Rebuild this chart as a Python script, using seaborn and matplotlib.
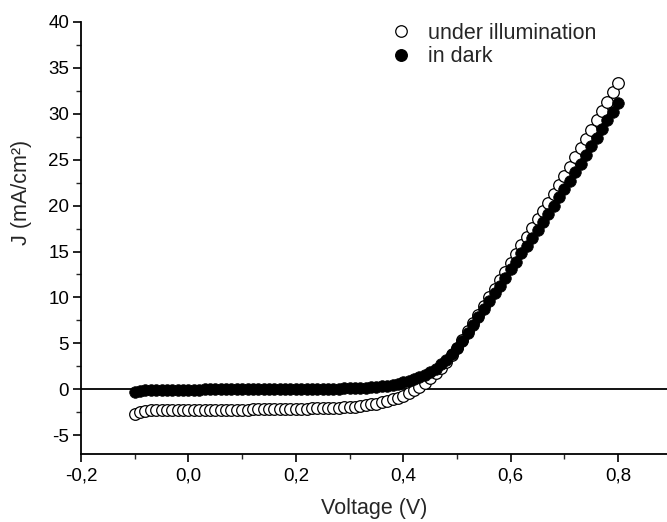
import matplotlib
matplotlib.use("Agg")
import matplotlib.pyplot as plt
from matplotlib.ticker import MultipleLocator, FuncFormatter
from matplotlib.lines import Line2D
import seaborn as sns
import pandas as pd

voltage = [
    -0.10, -0.09, -0.08, -0.07, -0.06, -0.05, -0.04, -0.03, -0.02, -0.01,
    0.00, 0.01, 0.02, 0.03, 0.04, 0.05, 0.06, 0.07, 0.08, 0.09,
    0.10, 0.11, 0.12, 0.13, 0.14, 0.15, 0.16, 0.17, 0.18, 0.19,
    0.20, 0.21, 0.22, 0.23, 0.24, 0.25, 0.26, 0.27, 0.28, 0.29,
    0.30, 0.31, 0.32, 0.33, 0.34, 0.35, 0.36, 0.37, 0.38, 0.39,
    0.40, 0.41, 0.42, 0.43, 0.44, 0.45, 0.46, 0.47, 0.48, 0.49,
    0.50, 0.51, 0.52, 0.53, 0.54, 0.55, 0.56, 0.57, 0.58, 0.59,
    0.60, 0.61, 0.62, 0.63, 0.64, 0.65, 0.66, 0.67, 0.68, 0.69,
    0.70, 0.71, 0.72, 0.73, 0.74, 0.75, 0.76, 0.77, 0.78, 0.79,
    0.80,
]

j_illum = [
    -2.70, -2.45, -2.35, -2.30, -2.28, -2.27, -2.26, -2.26, -2.25, -2.25,
    -2.25, -2.25, -2.24, -2.24, -2.24, -2.23, -2.23, -2.23, -2.22, -2.22,
    -2.21, -2.21, -2.20, -2.20, -2.19, -2.18, -2.17, -2.16, -2.15, -2.14,
    -2.13, -2.12, -2.10, -2.09, -2.07, -2.05, -2.03, -2.01, -1.99, -1.97,
    -1.95, -1.90, -1.82, -1.75, -1.65, -1.55, -1.42, -1.28, -1.10, -0.90,
    -0.68, -0.42, -0.12, 0.20, 0.65, 1.20, 1.75, 2.35, 3.00, 3.70,
    4.45, 5.37, 6.30, 7.22, 8.14, 9.07, 10.04, 10.96, 11.88, 12.81,
    13.78, 14.70, 15.68, 16.60, 17.52, 18.50, 19.42, 20.34, 21.31, 22.29,
    23.26, 24.23, 25.26, 26.23, 27.25, 28.28, 29.30, 30.32, 31.34, 32.37,
    33.39,
]

j_dark = [
    -0.25, -0.15, -0.10, -0.08, -0.07, -0.06, -0.05, -0.05, -0.04, -0.04,
    -0.03, -0.03, -0.03, -0.02, -0.02, -0.02, -0.01, -0.01, -0.01, 0.00,
    0.00, 0.00, 0.01, 0.01, 0.01, 0.02, 0.02, 0.02, 0.03, 0.03,
    0.03, 0.04, 0.04, 0.05, 0.05, 0.06, 0.07, 0.07, 0.08, 0.09,
    0.10, 0.12, 0.15, 0.18, 0.22, 0.27, 0.33, 0.41, 0.50, 0.62,
    0.76, 0.92, 1.10, 1.32, 1.58, 1.85, 2.25, 2.70, 3.20, 3.80,
    4.50, 5.30, 6.15, 7.00, 7.85, 8.70, 9.60, 10.45, 11.30, 12.15,
    13.05, 13.90, 14.80, 15.65, 16.50, 17.40, 18.25, 19.10, 20.00, 20.90,
    21.80, 22.70, 23.65, 24.55, 25.50, 26.45, 27.40, 28.35, 29.30, 30.25,
    31.20,
]

series_labels = ["under illumination", "in dark"]
x_label = "Voltage (V)"
y_label = "J (mA/cm²)"

sns.set_style("white")
plt.rcParams["font.family"] = ["Liberation Sans", "DejaVu Sans"]
plt.rcParams["axes.unicode_minus"] = False

df = pd.DataFrame({"V": voltage, "illum": j_illum, "dark": j_dark})

W, H = 667, 522
fig = plt.figure(figsize=(W / 100, H / 100), dpi=100)
ax = fig.add_axes([81 / W, (H - 454) / H, 1 - 81 / W, (454 - 22) / H])

ax.axhline(0, color="black", lw=1.3, zorder=1)

sns.scatterplot(data=df, x="V", y="illum", ax=ax, marker="o", s=70,
                facecolor="white", edgecolor="black", linewidth=0.9, zorder=2)
sns.scatterplot(data=df, x="V", y="dark", ax=ax, marker="o", s=70,
                color="black", edgecolor="black", linewidth=0.5, zorder=3)

ax.set_xlim(-0.2, 0.891)
ax.set_ylim(-7.05, 40)

ax.xaxis.set_major_locator(MultipleLocator(0.2))
ax.xaxis.set_minor_locator(MultipleLocator(0.1))
ax.yaxis.set_major_locator(MultipleLocator(5))
ax.yaxis.set_minor_locator(MultipleLocator(2.5))
ax.xaxis.set_major_formatter(FuncFormatter(lambda v, p: f"{v:.1f}".replace(".", ",")))
ax.yaxis.set_major_formatter(FuncFormatter(lambda v, p: f"{v:.0f}"))

for side in ["top", "right"]:
    ax.spines[side].set_visible(False)
for side in ["left", "bottom"]:
    ax.spines[side].set_linewidth(1.3)
    ax.spines[side].set_color("black")

ax.tick_params(which="major", direction="out", length=5.5, width=1.2,
               labelsize=13.5, colors="black", left=True, bottom=True)
ax.tick_params(axis="y", which="major", pad=3)
ax.tick_params(axis="x", which="major", pad=4)
ax.tick_params(which="minor", direction="out", length=3.3, width=1.0,
               left=True, bottom=True)

ax.set_xlabel(x_label, fontsize=15.5, labelpad=10)
ax.set_ylabel(y_label, fontsize=15.5)
ax.yaxis.set_label_coords(-0.084, (454 - 192) / 432)

handles = [
    Line2D([], [], ls="none", marker="o", markersize=8.3, markerfacecolor="white",
           markeredgecolor="black", markeredgewidth=0.9),
    Line2D([], [], ls="none", marker="o", markersize=8.3, markerfacecolor="black",
           markeredgecolor="black"),
]
fig.legend(handles, series_labels, loc="upper left", frameon=False,
           bbox_to_anchor=(390 / W, 1 - 23 / H), fontsize=15.5,
           borderpad=0, borderaxespad=0, handlelength=1.0,
           handletextpad=0.75, labelspacing=0.1)

fig.savefig("out.png", dpi=100)
